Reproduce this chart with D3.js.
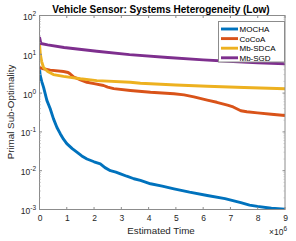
<!DOCTYPE html>
<html>
<head>
<meta charset="utf-8">
<script src="https://cdn.jsdelivr.net/npm/d3@7"></script>
<style>
  body { margin: 0; background: #fff; }
  text { font-family: "Liberation Sans", Arial, sans-serif; fill: #262626; }
</style>
</head>
<body>
<svg id="chart" width="296" height="241"></svg>
<script>
// values (time in units of 1e6, y = primal sub-optimality)
const seriesNames = ["MOCHA", "CoCoA", "Mb-SDCA", "Mb-SGD"];
const seriesColors = ["#0072BD", "#D95319", "#EDB120", "#7E2F8E"];

const mochaT = [0, 0.02, 0.08, 0.15, 0.27, 0.39, 0.51, 0.64, 0.76, 0.88, 1.0, 1.2, 1.37, 1.55, 1.74, 2.0, 2.23, 2.4, 2.6, 2.8, 2.97, 3.2, 3.46, 3.7, 4.07, 4.5, 4.93, 5.5, 6.15, 6.8, 7.38, 7.7, 7.99, 8.5, 9.0];
const mochaY = [4.5, 3.0, 2.0, 1.4, 0.65, 0.4, 0.22, 0.13, 0.09, 0.065, 0.05, 0.037, 0.030, 0.024, 0.020, 0.017, 0.015, 0.012, 0.010, 0.0092, 0.0083, 0.0072, 0.0062, 0.0056, 0.0046, 0.0040, 0.0034, 0.0028, 0.0023, 0.0019, 0.0015, 0.0013, 0.0012, 0.00108, 0.00102];

const cocoaT = [0, 0.1, 0.39, 0.88, 1.05, 1.13, 1.26, 1.5, 1.74, 2.0, 2.35, 2.5, 2.72, 3.33, 4.07, 4.93, 5.3, 5.66, 6.15, 6.5, 6.89, 7.1, 7.38, 7.6, 7.99, 8.5, 9.0];
const cocoaY = [4.6, 4.3, 3.9, 3.6, 3.4, 3.1, 2.6, 2.2, 1.9, 1.75, 1.57, 1.42, 1.3, 1.17, 1.05, 0.96, 0.9, 0.8, 0.66, 0.58, 0.49, 0.44, 0.35, 0.33, 0.31, 0.285, 0.265];

const sdcaT = [0, 0.03, 0.08, 0.15, 0.3, 0.51, 0.88, 1.5, 2.1, 3.33, 3.7, 5.0, 6.15, 7.5, 9.0];
const sdcaY = [18.7, 10, 6.5, 4.5, 3.6, 3.0, 2.7, 2.35, 2.1, 1.9, 1.8, 1.62, 1.5, 1.4, 1.3];

const sgdT = [0, 0.05, 0.3, 0.9, 2.1, 3.3, 4.7, 6.0, 7.1, 8.0, 9.0];
const sgdY = [28, 19, 17.5, 15, 12, 9.8, 8.3, 7.2, 6.5, 6.0, 5.7];

const xTicks = [0, 1, 2, 3, 4, 5, 6, 7, 8, 9];
const yExponents = [-3, -2, -1, 0, 1, 2];

const svg = d3.select("#chart");
const plotL = 39.5, plotR = 285, plotT = 15.5, plotB = 209.5;

const x = d3.scaleLinear().domain([0, 9e6]).range([plotL, plotR]);
const y = d3.scaleLog().domain([1e-3, 1e2]).range([plotB, plotT]);

const tickCol = "#262626";
const axisCol = "#8c8c8c";

// clip for the lines
svg.append("clipPath").attr("id", "clip")
  .append("rect").attr("x", plotL).attr("y", plotT).attr("width", plotR - plotL).attr("height", plotB - plotT);

const allT = [mochaT, cocoaT, sdcaT, sgdT];
const allY = [mochaY, cocoaY, sdcaY, sgdY];

const line = d3.line().x(d => x(d[0] * 1e6)).y(d => y(d[1]));

allT.forEach((ts, i) => {
  const pts = ts.map((t, j) => [t, allY[i][j]]);
  svg.append("path")
    .attr("clip-path", "url(#clip)")
    .attr("d", line(pts))
    .attr("fill", "none")
    .attr("stroke", seriesColors[i])
    .attr("stroke-width", 2.9)
    .attr("stroke-linejoin", "round");
});

// box
svg.append("rect")
  .attr("x", plotL).attr("y", plotT).attr("width", plotR - plotL).attr("height", plotB - plotT)
  .attr("fill", "none").attr("stroke", axisCol).attr("stroke-width", 1);

// x tick labels
const xAxis = d3.axisBottom(x).tickValues(xTicks.map(v => v * 1e6)).tickSize(0).tickFormat(d => d / 1e6);
const gx = svg.append("g").attr("transform", `translate(0,${plotB})`).call(xAxis);
gx.select(".domain").remove();
gx.selectAll("text").attr("dy", 0).attr("y", 11.5).style("font-size", "8.5px").attr("fill", tickCol);

// x ticks inward, bottom and top
xTicks.forEach(v => {
  const px = x(v * 1e6);
  svg.append("line").attr("x1", px).attr("x2", px).attr("y1", plotB).attr("y2", plotB - 2.5).attr("stroke", axisCol);
  svg.append("line").attr("x1", px).attr("x2", px).attr("y1", plotT).attr("y2", plotT + 2.5).attr("stroke", axisCol);
});

// y ticks: major + minor, on both sides
yExponents.forEach(e => {
  const py = y(Math.pow(10, e));
  svg.append("line").attr("x1", plotL).attr("x2", plotL + 2.5).attr("y1", py).attr("y2", py).attr("stroke", axisCol);
  svg.append("line").attr("x1", plotR).attr("x2", plotR - 2.5).attr("y1", py).attr("y2", py).attr("stroke", axisCol);
  if (e < 2) {
    for (let k = 2; k <= 9; k++) {
      const my = y(k * Math.pow(10, e));
      svg.append("line").attr("x1", plotL).attr("x2", plotL + 1.5).attr("y1", my).attr("y2", my).attr("stroke", "#b0b0b0").attr("stroke-width", 0.6);
      svg.append("line").attr("x1", plotR).attr("x2", plotR - 1.5).attr("y1", my).attr("y2", my).attr("stroke", "#b0b0b0").attr("stroke-width", 0.6);
    }
  }
  const t = svg.append("text")
    .attr("x", 36).attr("y", py + 4.5)
    .attr("text-anchor", "end")
    .style("font-size", "8.5px");
  t.append("tspan").text("10");
  t.append("tspan").attr("dy", -4).style("font-size", "6.5px").text(e);
});

// x multiplier
const mult = svg.append("text").attr("x", 287).attr("y", 235).attr("text-anchor", "end").style("font-size", "8.5px");
mult.append("tspan").text("×10");
mult.append("tspan").attr("dy", -4).style("font-size", "6.5px").text("6");

// labels
svg.append("text").attr("x", 161).attr("y", 234).attr("text-anchor", "middle").style("font-size", "9.8px").text("Estimated Time");
svg.append("text").attr("transform", "translate(14,112) rotate(-90)").attr("text-anchor", "middle").style("font-size", "9.8px").text("Primal Sub-Optimality");
svg.append("text").attr("x", 161).attr("y", 12.5).attr("text-anchor", "middle").style("font-size", "10px").style("font-weight", "bold").style("fill", "#000").text("Vehicle Sensor: Systems Heterogeneity (Low)");

// legend
const lg = svg.append("g");
lg.append("rect").attr("x", 218.5).attr("y", 21.5).attr("width", 66).attr("height", 40.5)
  .attr("fill", "#fff").attr("stroke", axisCol).attr("stroke-width", 1);
seriesNames.forEach((name, i) => {
  const ly = 29 + i * 9.6;
  lg.append("line").attr("x1", 221).attr("x2", 238).attr("y1", ly).attr("y2", ly)
    .attr("stroke", seriesColors[i]).attr("stroke-width", 2.9);
  lg.append("text").attr("x", 239.5).attr("y", ly + 3).style("font-size", "8px").style("fill", "#000").text(name);
});
</script>
</body>
</html>
